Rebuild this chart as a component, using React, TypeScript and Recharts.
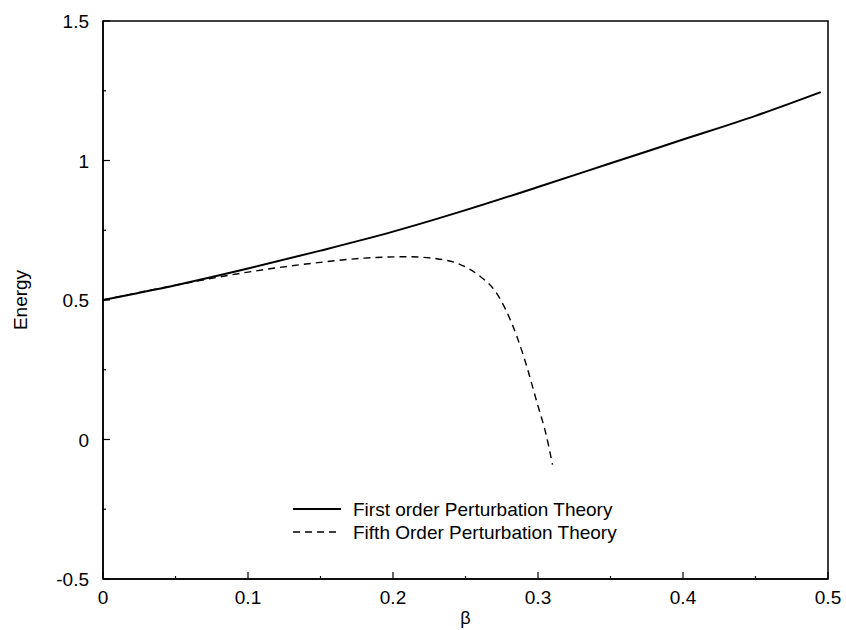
import React from "react";
import {
  LineChart,
  Line,
  XAxis,
  YAxis,
  Legend,
  ReferenceArea,
} from "recharts";

// beta values and energies
const firstBeta = [0, 0.05, 0.1, 0.15, 0.2, 0.25, 0.3, 0.35, 0.4, 0.45, 0.495];
const firstEnergy = [0.5, 0.553, 0.613, 0.677, 0.745, 0.822, 0.905, 0.99, 1.075, 1.16, 1.245];

const fifthBeta = [0, 0.05, 0.1, 0.15, 0.18, 0.21, 0.23, 0.245, 0.26, 0.27, 0.28, 0.29, 0.3, 0.305, 0.31];
const fifthEnergy = [0.5, 0.553, 0.6, 0.635, 0.65, 0.655, 0.648, 0.63, 0.585, 0.535, 0.44, 0.3, 0.12, 0.03, -0.09];

const xTicks = [0, 0.05, 0.1, 0.15, 0.2, 0.25, 0.3, 0.35, 0.4, 0.45, 0.5];
const xLabels = ["0", "0.1", "0.2", "0.3", "0.4", "0.5"];
const yTicks = [-0.5, -0.25, 0, 0.25, 0.5, 0.75, 1, 1.25, 1.5];
const yLabels = ["-0.5", "0", "0.5", "1", "1.5"];

const firstData = firstBeta.map((x, i) => ({ x, e: firstEnergy[i] }));
const fifthData = fifthBeta.map((x, i) => ({ x, e: fifthEnergy[i] }));

const FONT = "'Liberation Sans', Arial, sans-serif";
const FS = 19;

const fmt = (v: number) => String(Number(v.toFixed(2)));

function XTick(props: any) {
  const { x, y, payload, top } = props;
  const label = fmt(payload.value);
  const major = xLabels.includes(label);
  const len = major ? 7 : 3;
  return (
    <g>
      <line x1={x} x2={x} y1={y} y2={top ? y + len : y - len} stroke="#000" strokeWidth={1.2} />
      {!top && major && (
        <text x={x} y={y + 25} textAnchor="middle" fontSize={FS} fontFamily={FONT} fill="#000">
          {label}
        </text>
      )}
    </g>
  );
}

function YTick(props: any) {
  const { x, y, payload, right } = props;
  const label = fmt(payload.value);
  const major = yLabels.includes(label);
  const len = major ? 7 : 3;
  return (
    <g>
      <line x1={x} x2={right ? x - len : x + len} y1={y} y2={y} stroke="#000" strokeWidth={1.2} />
      {!right && major && (
        <text x={x - 14} y={y + 7} textAnchor="end" fontSize={FS} fontFamily={FONT} fill="#000">
          {label}
        </text>
      )}
    </g>
  );
}

function LegendBox() {
  const rows = [
    { name: "First order Perturbation Theory", dash: undefined, w: 2 },
    { name: "Fifth Order Perturbation Theory", dash: "7 5", w: 1.4 },
  ];
  return (
    <svg width={360} height={50}>
      {rows.map((r, i) => (
        <g key={r.name}>
          <line x1={0} x2={48} y1={12 + i * 23} y2={12 + i * 23} stroke="#000" strokeWidth={r.w} strokeDasharray={r.dash} />
          <text x={60} y={19 + i * 23} fontSize={FS} fontFamily={FONT} fill="#000">
            {r.name}
          </text>
        </g>
      ))}
    </svg>
  );
}

export default function App() {
  return (
    <div style={{ position: "absolute", left: 0, top: 0, width: 846, height: 630, background: "#fff" }}>
      <LineChart width={846} height={630} margin={{ top: 21, right: 18, bottom: 0, left: 0 }}>
        <XAxis
          xAxisId="b"
          type="number"
          dataKey="x"
          domain={[0, 0.5]}
          ticks={xTicks}
          tick={<XTick />}
          tickSize={0}
          tickMargin={0}
          tickLine={false}
          axisLine={{ stroke: "#000", strokeWidth: 1.5 }}
          height={51}
          allowDataOverflow
          label={({ viewBox }: any) => (
            <text
              x={viewBox.x + viewBox.width / 2}
              y={624}
              textAnchor="middle"
              fontSize={18}
              fontFamily={FONT}
              fill="#000"
            >
              β
            </text>
          )}
        />
        <XAxis
          xAxisId="t"
          orientation="top"
          type="number"
          domain={[0, 0.5]}
          ticks={xTicks}
          tick={<XTick top />}
          tickSize={0}
          tickMargin={0}
          tickLine={false}
          axisLine={false}
          height={0}
          allowDataOverflow
        />
        <YAxis
          yAxisId="l"
          type="number"
          domain={[-0.5, 1.5]}
          ticks={yTicks}
          tick={<YTick />}
          tickSize={0}
          tickMargin={0}
          tickLine={false}
          axisLine={{ stroke: "#000", strokeWidth: 1.5 }}
          width={103}
          allowDataOverflow
          label={({ viewBox }: any) => (
            <text
              x={20}
              y={viewBox.y + viewBox.height / 2}
              transform={`rotate(-90, 20, ${viewBox.y + viewBox.height / 2})`}
              textAnchor="middle"
              dominantBaseline="central"
              fontSize={FS}
              fontFamily={FONT}
              fill="#000"
            >
              Energy
            </text>
          )}
        />
        <YAxis
          yAxisId="r"
          orientation="right"
          type="number"
          domain={[-0.5, 1.5]}
          ticks={yTicks}
          tick={<YTick right />}
          tickSize={0}
          tickMargin={0}
          tickLine={false}
          axisLine={false}
          width={0}
          allowDataOverflow
        />
        <ReferenceArea
          xAxisId="b"
          yAxisId="l"
          x1={0}
          x2={0.5}
          y1={-0.5}
          y2={1.5}
          fill="none"
          stroke="#000"
          strokeWidth={1.5}
          ifOverflow="visible"
        />
        <Line
          xAxisId="b"
          yAxisId="l"
          data={firstData}
          dataKey="e"
          type="monotone"
          stroke="#000"
          strokeWidth={2}
          dot={false}
          isAnimationActive={false}
          name="First order Perturbation Theory"
        />
        <Line
          xAxisId="b"
          yAxisId="l"
          data={fifthData}
          dataKey="e"
          type="monotone"
          stroke="#000"
          strokeWidth={1.4}
          strokeDasharray="7 5"
          dot={false}
          isAnimationActive={false}
          name="Fifth Order Perturbation Theory"
        />
        <Legend
          layout="vertical"
          align="center"
          verticalAlign="middle"
          content={() => <LegendBox />}
          wrapperStyle={{ position: "absolute", left: 293, top: 497, width: 360, height: 50 }}
        />
      </LineChart>
    </div>
  );
}
